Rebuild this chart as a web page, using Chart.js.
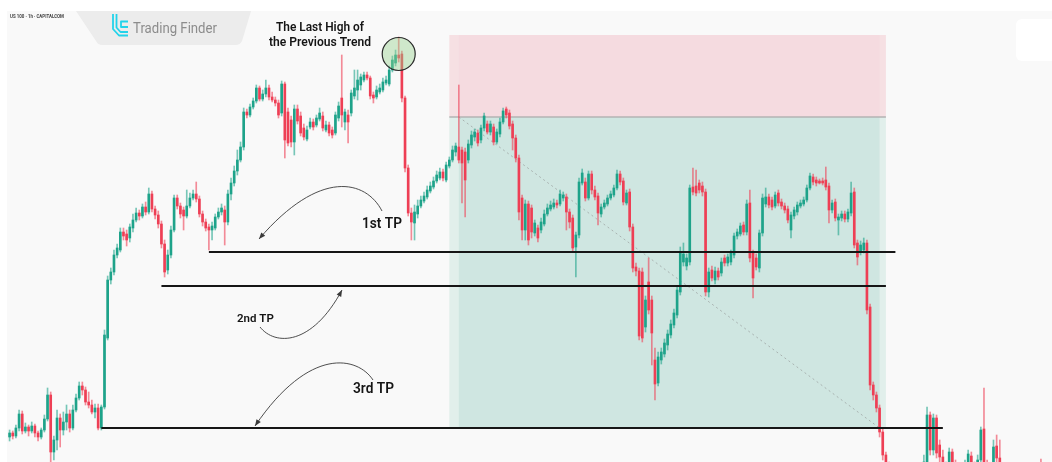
<!DOCTYPE html>
<html>
<head>
<meta charset="utf-8">
<script src="https://cdn.jsdelivr.net/npm/chart.js@4.4.1/dist/chart.umd.min.js"></script>
<style>
  html, body { margin: 0; padding: 0; background: #ffffff; }
  #chart { display: block; }
</style>
</head>
<body>
<canvas id="chart" width="1052" height="462"></canvas>
<script>
// US 100, 1h candles: [open, high, low, close]
var ohlc = [
  [17563,17570,17559,17567],[17567,17569,17561,17564],[17564,17575,17562,17572],[17572,17590,17569,17586],[17586,17589,17566,17569],
  [17569,17577,17567,17573],[17573,17575,17564,17569],[17569,17578,17567,17574],[17574,17576,17563,17567],[17567,17569,17559,17563],
  [17563,17572,17561,17570],[17570,17585,17568,17581],[17581,17612,17579,17605],[17605,17608,17538,17548],[17548,17564,17540,17560],
  [17560,17590,17550,17582],[17582,17586,17553,17570],[17570,17588,17565,17578],[17578,17595,17570,17586],[17586,17590,17568,17572],
  [17572,17595,17570,17590],[17590,17606,17588,17602],[17602,17618,17600,17614],[17614,17618,17605,17610],[17610,17613,17595,17598],
  [17598,17608,17592,17595],[17595,17600,17586,17588],[17588,17596,17582,17592],[17592,17596,17570,17572],[17572,17595,17570,17593],
  // 30
  [17593,17670,17591,17665],[17662,17724,17660,17720],[17720,17732,17716,17728],[17728,17750,17725,17745],[17745,17756,17742,17752],
  [17750,17772,17748,17768],[17768,17772,17760,17764],[17766,17770,17754,17760],[17762,17776,17758,17773],[17772,17786,17768,17780],
  [17780,17792,17778,17787],[17787,17790,17780,17784],[17784,17796,17782,17793],[17793,17798,17785,17788],[17788,17812,17786,17806],
  [17806,17809,17788,17791],[17791,17794,17781,17785],[17785,17789,17772,17776],[17776,17779,17752,17756],[17756,17760,17723,17728],
  [17730,17750,17726,17745],[17745,17774,17742,17770],[17770,17805,17768,17802],[17802,17805,17791,17794],[17794,17797,17782,17786],
  [17790,17793,17770,17784],[17784,17810,17782,17794],[17794,17807,17792,17802],[17802,17810,17800,17806],[17806,17818,17798,17801],
  // 60
  [17801,17804,17783,17786],[17786,17789,17774,17778],[17778,17781,17769,17772],[17773,17776,17750,17770],[17770,17778,17760,17774],
  [17772,17786,17770,17783],[17783,17792,17781,17788],[17788,17796,17785,17792],[17790,17794,17755,17778],[17778,17810,17775,17806],
  [17806,17822,17800,17817],[17817,17834,17814,17829],[17829,17850,17825,17840],[17840,17858,17838,17853],[17853,17892,17850,17888],
  [17888,17891,17882,17885],[17885,17896,17883,17893],[17893,17902,17891,17899],[17899,17915,17897,17912],[17912,17914,17899,17901],
  [17901,17910,17899,17906],[17906,17920,17903,17912],[17912,17915,17900,17903],[17903,17908,17898,17900],[17900,17903,17894,17897],
  [17897,17900,17882,17885],[17887,17919,17884,17916],[17916,17918,17842,17860],[17888,17892,17854,17857],[17880,17884,17853,17858],
  // 90
  [17858,17895,17845,17891],[17891,17895,17876,17879],[17884,17888,17864,17867],[17872,17876,17860,17863],[17861,17874,17859,17870],
  [17873,17882,17871,17878],[17878,17881,17870,17873],[17875,17885,17873,17882],[17881,17892,17879,17887],[17884,17888,17869,17872],
  [17870,17879,17868,17875],[17875,17878,17864,17867],[17870,17873,17862,17865],[17867,17888,17865,17885],[17882,17898,17879,17894],
  [17902,17945,17873,17885],[17878,17891,17870,17888],[17885,17890,17857,17878],[17887,17910,17884,17907],[17904,17930,17901,17912],
  [17910,17930,17900,17920],[17915,17926,17910,17923],[17920,17928,17918,17925],[17925,17928,17920,17922],[17922,17924,17901,17904],
  [17905,17908,17897,17902],[17903,17914,17901,17910],[17908,17916,17906,17912],[17910,17922,17908,17918],[17917,17924,17915,17920],
  // 120
  [17916,17934,17914,17930],[17930,17944,17928,17940],[17937,17950,17934,17945],[17945,17963,17938,17942],[17946,17949,17898,17902],
  [17902,17904,17828,17832],[17832,17835,17784,17787],[17787,17792,17760,17778],[17777,17795,17760,17788],[17786,17800,17782,17794],
  [17794,17804,17792,17800],[17799,17808,17797,17804],[17803,17814,17801,17810],[17809,17818,17807,17814],[17813,17823,17811,17819],
  [17819,17829,17817,17825],[17822,17832,17820,17828],[17828,17831,17819,17822],[17820,17838,17818,17835],[17834,17843,17832,17840],
  [17840,17854,17838,17850],[17848,17857,17844,17854],[17853,17915,17837,17840],[17850,17853,17797,17837],[17848,17852,17783,17820],
  [17840,17860,17837,17856],[17855,17869,17852,17865],[17863,17871,17859,17868],[17867,17870,17854,17857],[17860,17875,17857,17872],
  // 150
  [17872,17887,17869,17884],[17876,17879,17866,17868],[17868,17879,17865,17876],[17873,17876,17855,17858],[17858,17871,17856,17868],
  [17866,17882,17863,17878],[17878,17892,17876,17889],[17891,17893,17882,17885],[17887,17890,17871,17874],[17876,17879,17850,17862],
  [17862,17865,17838,17842],[17842,17845,17780,17788],[17802,17805,17760,17770],[17770,17800,17760,17796],[17796,17799,17755,17760],
  [17792,17795,17762,17768],[17767,17780,17764,17777],[17772,17775,17758,17762],[17770,17782,17767,17778],[17776,17790,17774,17786],
  [17786,17796,17784,17792],[17791,17799,17789,17795],[17793,17801,17791,17797],[17797,17800,17792,17795],[17796,17810,17794,17806],
  [17802,17808,17799,17805],[17803,17806,17770,17788],[17788,17791,17772,17778],[17782,17785,17748,17752],[17753,17768,17723,17765],
  // 180
  [17765,17822,17762,17818],[17817,17831,17815,17827],[17818,17822,17799,17802],[17802,17829,17800,17826],[17826,17829,17806,17810],
  [17810,17814,17800,17803],[17804,17807,17775,17787],[17786,17796,17783,17793],[17793,17800,17791,17797],[17796,17805,17794,17802],
  [17802,17809,17800,17806],[17805,17815,17803,17812],[17812,17830,17810,17826],[17826,17829,17815,17818],[17819,17822,17795,17798],
  [17797,17810,17795,17807],[17808,17811,17769,17773],[17773,17776,17728,17732],[17733,17737,17724,17729],[17729,17732,17660,17664],
  [17728,17732,17658,17662],[17673,17704,17668,17700],[17718,17742,17686,17690],[17700,17704,17635,17667],[17640,17652,17600,17616],
  [17617,17648,17614,17643],[17640,17652,17636,17648],[17646,17661,17643,17657],[17655,17670,17650,17666],[17665,17680,17662,17676],
  // 210
  [17675,17691,17672,17687],[17685,17714,17682,17710],[17708,17753,17705,17748],[17738,17757,17734,17746],[17734,17746,17730,17742],
  [17738,17815,17735,17812],[17813,17832,17805,17808],[17814,17830,17804,17807],[17817,17820,17807,17810],[17814,17818,17804,17808],
  [17808,17811,17704,17708],[17708,17732,17703,17728],[17730,17734,17719,17722],[17720,17733,17716,17729],[17729,17732,17720,17723],
  [17727,17742,17724,17738],[17742,17745,17734,17737],[17737,17746,17734,17743],[17738,17750,17735,17747],[17745,17767,17742,17764],
  [17764,17771,17761,17768],[17766,17777,17764,17774],[17775,17778,17765,17768],[17768,17800,17765,17796],[17797,17810,17738,17742],
  [17747,17750,17702,17722],[17742,17746,17730,17733],[17732,17770,17728,17767],[17767,17806,17764,17802],[17796,17812,17793,17803],
  // 240
  [17803,17806,17792,17795],[17800,17803,17790,17793],[17794,17808,17792,17805],[17807,17810,17794,17797],[17798,17801,17791,17794],
  [17794,17797,17787,17790],[17791,17794,17777,17780],[17770,17788,17762,17785],[17784,17793,17781,17790],[17788,17798,17785,17795],
  [17794,17800,17792,17797],[17796,17803,17794,17800],[17800,17815,17798,17812],[17812,17827,17810,17824],[17823,17826,17815,17818],
  [17820,17823,17814,17817],[17819,17821,17816,17817],[17819,17822,17815,17817],[17820,17833,17810,17813],[17814,17817,17777,17790],
  [17790,17800,17787,17797],[17798,17801,17779,17782],[17780,17786,17765,17783],[17782,17789,17779,17786],[17786,17789,17778,17781],
  [17781,17791,17778,17788],[17787,17818,17784,17807],[17808,17812,17752,17755],[17757,17760,17735,17743],[17748,17759,17745,17755],
  // 270
  [17750,17762,17747,17757],[17757,17760,17686,17690],[17693,17696,17610,17615],[17615,17618,17600,17605],[17605,17608,17588,17592],
  [17592,17595,17563,17568],[17568,17572,17540,17545],[17545,17548,17526,17532],[17534,17538,17514,17520],[17520,17528,17500,17508],
  [17506,17524,17498,17518],[17516,17522,17495,17504],[17505,17512,17488,17495],[17495,17515,17492,17510],[17510,17514,17494,17500],
  [17502,17520,17498,17515],[17514,17530,17510,17524],[17524,17530,17508,17512],[17512,17534,17510,17528],[17528,17545,17522,17538],
  [17538,17593,17530,17585],[17585,17588,17545,17550],[17550,17586,17545,17582],[17582,17585,17542,17547],[17555,17560,17530,17543],
  [17543,17550,17522,17530],[17522,17538,17518,17532],[17532,17552,17528,17548],[17548,17551,17530,17535],[17535,17540,17520,17525],
  // 300
  [17525,17537,17520,17532],[17530,17535,17515,17522],[17522,17540,17518,17534],[17534,17550,17530,17546],[17544,17548,17525,17532],
  [17532,17538,17520,17525],[17526,17545,17522,17540],[17540,17573,17535,17570],[17571,17612,17530,17535],[17535,17540,17520,17525],
  [17522,17534,17518,17530],[17530,17560,17527,17553],[17554,17565,17538,17542],[17542,17560,17525,17530],[17530,17535,17512,17520],
  [17520,17528,17505,17510],[17510,17522,17500,17518],[17518,17525,17505,17508],[17508,17515,17495,17500],[17500,17512,17492,17506],
  [17506,17518,17500,17514],[17514,17520,17502,17505],[17505,17516,17498,17512],[17512,17526,17508,17522],[17522,17530,17512,17516],
  [17516,17528,17510,17525],[17525,17541,17518,17520],[17520,17527,17508,17512],[17512,17520,17500,17516],[17516,17524,17506,17510]
];

// take-profit levels (price), where each line starts and ends (candle index)
var tpNames = ['1st TP', '2nd TP', '3rd TP'];
var tpPrices = [17748, 17714, 17572];
var tpFrom = [63, 48, 29];
var tpTo = [280, 277, 295];

// short position box: stop, entry, target (price) and its span (candle index)
var stopPrice = 17965;
var entryPrice = 17883;
var targetPrice = 17572;
var boxFrom = 139;
var boxTo = 277;

// the last high of the previous trend
var lastHighIndex = 123;
var lastHighPrice = 17946;

var upColor = '#1ea38a';
var downColor = '#ee3f55';

var labels = ohlc.map(function (c, i) { return String(i); });

function candleColor(i, alpha) {
  var c = ohlc[i];
  var up = c[3] >= c[0];
  if (alpha >= 1) return up ? upColor : downColor;
  return up ? 'rgba(30,163,138,' + alpha + ')' : 'rgba(238,63,85,' + alpha + ')';
}

function arrowCurve(c, p0, c1, c2, p3) {
  c.beginPath();
  c.moveTo(p0[0], p0[1]);
  c.bezierCurveTo(c1[0], c1[1], c2[0], c2[1], p3[0], p3[1]);
  c.stroke();
  var ang = Math.atan2(p3[1] - c2[1], p3[0] - c2[0]);
  c.beginPath();
  c.moveTo(p3[0], p3[1]);
  c.lineTo(p3[0] - 7 * Math.cos(ang - 0.38), p3[1] - 7 * Math.sin(ang - 0.38));
  c.lineTo(p3[0] - 7 * Math.cos(ang + 0.38), p3[1] - 7 * Math.sin(ang + 0.38));
  c.closePath();
  c.fill();
}

var drawing = {
  id: 'drawing',
  beforeDraw: function (chart) {
    var c = chart.ctx;
    c.save();
    c.fillStyle = '#ffffff';
    c.fillRect(0, 0, chart.width, chart.height);
    c.fillStyle = '#f9f9f9';
    c.fillRect(7, 11, chart.width - 7, chart.height - 11);

    // white box at the top right
    c.fillStyle = '#ffffff';
    c.beginPath();
    c.roundRect(1016, 19, 50, 42, 6);
    c.fill();

    // symbol line
    c.fillStyle = '#444';
    c.font = 'bold 5px Roboto';
    c.textBaseline = 'alphabetic';
    c.fillText('US 100 \u00b7 1h \u00b7 CAPITALCOM', 10, 17.5, 54);

    // Trading Finder banner
    c.fillStyle = '#ececec';
    c.beginPath();
    c.moveTo(76, 11);
    c.lineTo(251, 11);
    c.lineTo(242, 41);
    c.quadraticCurveTo(240, 45, 236, 45);
    c.lineTo(102, 45);
    c.quadraticCurveTo(98, 45, 96, 41);
    c.closePath();
    c.fill();

    c.strokeStyle = '#22d3ea';
    c.lineWidth = 1.8;
    c.lineJoin = 'round';
    c.beginPath();
    c.moveTo(113, 14); c.lineTo(113, 29); c.lineTo(119, 35.5); c.lineTo(128, 35.5);
    c.moveTo(116.5, 14); c.lineTo(116.5, 27.5); c.lineTo(120.5, 32); c.lineTo(128, 32);
    c.moveTo(128, 21.5); c.lineTo(121, 21.5); c.lineTo(121, 27); c.lineTo(128, 27);
    c.stroke();

    c.fillStyle = '#8c8c8c';
    c.font = '14px Roboto';
    c.fillText('Trading Finder', 133, 33, 84);
    c.restore();
  },
  beforeDatasetsDraw: function (chart) {
    var c = chart.ctx, x = chart.scales.x, y = chart.scales.y;
    var x0 = x.getPixelForValue(boxFrom), x1 = x.getPixelForValue(boxTo);
    var xi0 = x.getPixelForValue(boxFrom + 3), xi1 = x.getPixelForValue(boxTo - 2);
    var yS = y.getPixelForValue(stopPrice), yE = y.getPixelForValue(entryPrice), yT = y.getPixelForValue(targetPrice);
    c.save();
    c.fillStyle = '#f6e0e3';
    c.fillRect(x0, yS, x1 - x0, yE - yS);
    c.fillStyle = '#f5dbe0';
    c.fillRect(xi0, yS, xi1 - xi0, yE - yS);
    c.fillStyle = '#e1efeb';
    c.fillRect(x0, yE, x1 - x0, yT - yE);
    c.fillStyle = '#cfe6e1';
    c.fillRect(xi0, yE, xi1 - xi0, yT - yE);

    c.strokeStyle = '#b3b3b3';
    c.lineWidth = 1.5;
    c.beginPath();
    c.moveTo(x0, yE); c.lineTo(x1, yE);
    c.stroke();

    c.strokeStyle = '#a9b3b1';
    c.lineWidth = 1;
    c.setLineDash([2, 3]);
    c.beginPath();
    c.moveTo(x.getPixelForValue(boxFrom + 3), yE);
    c.lineTo(x.getPixelForValue(boxTo - 2), yT);
    c.stroke();
    c.restore();
  },
  afterDatasetsDraw: function (chart) {
    var c = chart.ctx, x = chart.scales.x, y = chart.scales.y;
    c.save();
    // take-profit lines
    c.strokeStyle = '#161616';
    c.lineWidth = 2;
    for (var i = 0; i < tpPrices.length; i++) {
      var py = Math.round(y.getPixelForValue(tpPrices[i]));
      c.beginPath();
      c.moveTo(x.getPixelForValue(tpFrom[i]), py);
      c.lineTo(x.getPixelForValue(tpTo[i]), py);
      c.stroke();
    }

    // circle on the last high
    var cx = x.getPixelForValue(lastHighIndex), cy = y.getPixelForValue(lastHighPrice);
    c.fillStyle = 'rgba(150,210,140,0.42)';
    c.strokeStyle = '#2a2a2a';
    c.lineWidth = 1.2;
    c.beginPath();
    c.arc(cx, cy, 16.5, 0, Math.PI * 2);
    c.fill();
    c.stroke();

    // labels
    c.fillStyle = '#151515';
    c.textAlign = 'center';
    c.font = '600 13px Roboto';
    c.fillText('The Last High of', 320, 31, 88);
    c.fillText('the Previous Trend', 320, 46, 102);
    c.textAlign = 'left';
    c.font = '600 14px Roboto';
    c.fillText(tpNames[0], 362, 228, 40);
    c.fillText(tpNames[2], 353, 393, 41);
    c.font = '600 11.5px Roboto';
    c.fillText(tpNames[1], 237, 322, 37);

    // curved arrows
    c.strokeStyle = '#3a3a3a';
    c.fillStyle = '#3a3a3a';
    c.lineWidth = 0.9;
    arrowCurve(c, [382, 211], [366, 180], [320, 168], [259, 239]);
    arrowCurve(c, [260, 327], [275, 346], [312, 346], [342, 290]);
    arrowCurve(c, [373, 380], [358, 357], [310, 345], [255, 426]);
    c.restore();
  }
};

var ctx = document.getElementById('chart').getContext('2d');
var chart = new Chart(ctx, {
  type: 'bar',
  data: {
    labels: labels,
    datasets: [
      {
        label: 'Body',
        data: ohlc.map(function (c) { return [c[0], c[3]]; }),
        backgroundColor: function (context) { return candleColor(context.dataIndex, 1); },
        barThickness: 2,
        minBarLength: 1,
        grouped: false,
        order: 0
      },
      {
        label: 'Wick',
        data: ohlc.map(function (c) { return [c[2], c[1]]; }),
        backgroundColor: function (context) { return candleColor(context.dataIndex, 0.6); },
        barThickness: 1,
        grouped: false,
        order: 1
      }
    ]
  },
  options: {
    responsive: false,
    animation: false,
    devicePixelRatio: 1,
    layout: { padding: { left: 8, right: 0, top: 0, bottom: 0 } },
    plugins: {
      legend: { display: false },
      tooltip: { enabled: false }
    },
    scales: {
      x: { display: false },
      y: { display: false, min: 17538, max: 18000 }
    }
  },
  plugins: [drawing]
});
</script>
</body>
</html>
